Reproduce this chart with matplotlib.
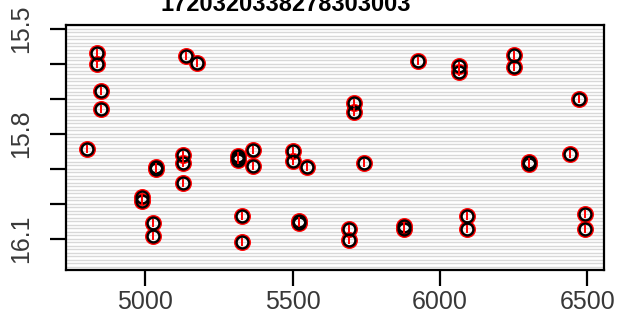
import numpy as np
import matplotlib.pyplot as plt

title = "1720320338278303003"

xs = [4837, 4837, 4851, 4851, 4802, 5139, 5177,
      5037, 5037, 5130, 5130, 5130, 4990, 4990, 5026, 5026,
      5315, 5315, 5315, 5365, 5365, 5328, 5328,
      5503, 5503, 5549, 5521, 5521,
      5741, 5710, 5710, 5690, 5690, 5877, 5877, 5927,
      6066, 6066, 6091, 6091, 6252, 6252,
      6303, 6303, 6440, 6471, 6490, 6490]
ys = [15.568, 15.601, 15.677, 15.729, 15.842, 15.577, 15.598,
      15.893, 15.899, 15.860, 15.882, 15.941, 15.979, 15.991, 16.055, 16.091,
      15.862, 15.868, 15.874, 15.846, 15.891, 16.033, 16.109,
      15.848, 15.876, 15.895, 16.048, 16.053,
      15.884, 15.711, 15.736, 16.072, 16.103, 16.062, 16.071, 15.591,
      15.606, 15.624, 16.034, 16.072, 15.574, 15.609,
      15.879, 15.887, 15.857, 15.701, 16.029, 16.071]

yticks = [15.5, 15.6, 15.7, 15.8, 15.9, 16.0, 16.1]
ylabels = ["15.5", "", "", "15.8", "", "", "16.1"]
xticks = [5000, 5500, 6000, 6500]

plt.rcParams['font.family'] = ['Liberation Sans', 'DejaVu Sans']

fig = plt.figure(figsize=(6.17, 3.35), dpi=100)
ax = fig.add_axes([66/617, 1 - 270/335, (604 - 66)/617, (270 - 25)/335])

# grey background rules
for h in np.arange(15.49, 16.19, 0.01):
    ax.axhline(h, color='#d8d8d8', lw=1.0, zorder=0)

ax.plot(xs, ys, 'o', ms=10, mfc='none', mec='red', mew=2.2, zorder=2)
ax.plot(xs, ys, 'o', ms=8.5, mfc='none', mec='black', mew=1.7, zorder=3)
ax.plot(xs, ys, '|', ms=6, color='red', mew=1.4, zorder=4)

ax.set_xlim(4732, 6556)
ax.set_ylim(16.1886, 15.4886)

ax.set_yticks(yticks)
ax.set_yticklabels(ylabels, rotation=90, va='center', fontsize=18, color='#383838')
ax.set_xticks(xticks)
ax.set_xticklabels([str(t) for t in xticks], fontsize=18, color='#383838')
ax.tick_params(axis='both', length=11.5, width=1.6)
ax.tick_params(axis='x', pad=3)
ax.tick_params(axis='y', pad=12)

for s in ax.spines.values():
    s.set_linewidth(1.6)

fig.text(286/617, 1 - 11/335, title, ha='center', va='baseline',
         fontsize=17, fontweight='bold')

fig.savefig('out.png', dpi=100)
